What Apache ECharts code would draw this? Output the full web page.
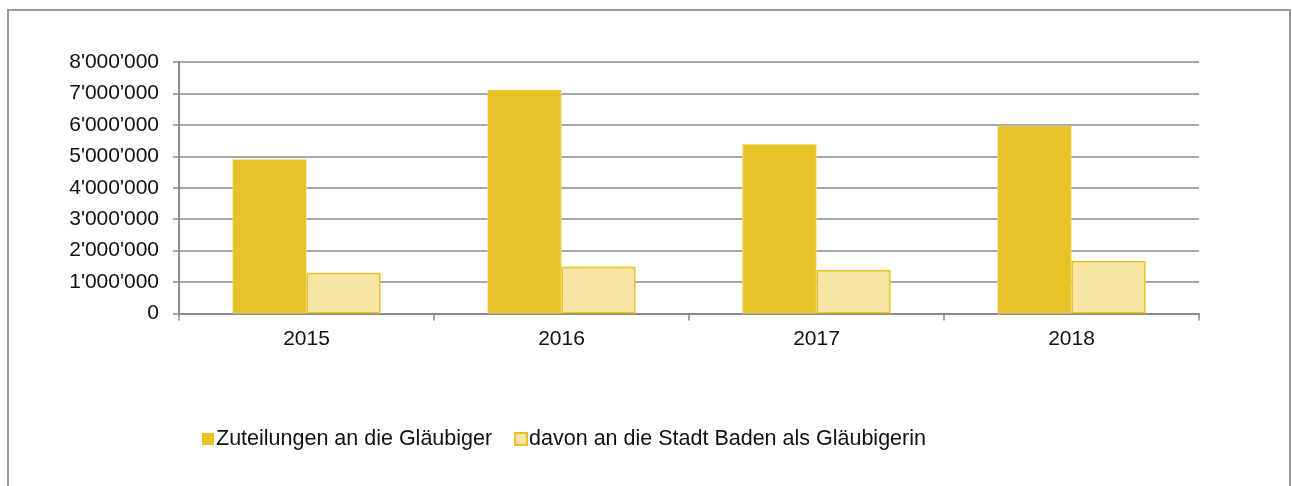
<!DOCTYPE html>
<html>
<head>
<meta charset="utf-8">
<script src="https://cdn.jsdelivr.net/npm/echarts@6/dist/echarts.min.js"></script>
<style>
  html, body { margin: 0; padding: 0; background: #fff; }
  #chart { width: 1292px; height: 486px; }
</style>
</head>
<body>
<div id="chart"></div>
<script>
const years = ["2015", "2016", "2017", "2018"];
const zuteilungen = [4910000, 7120000, 5390000, 5970000];
const davonBaden = [1300000, 1490000, 1385000, 1670000];
const seriesNames = ["Zuteilungen an die Gläubiger", "davon an die Stadt Baden als Gläubigerin"];

const gold = "#e8c327";
const lightGold = "#f5e4a4";
const grey = "#8a8a8a";
const font = "'Liberation Sans', Arial, sans-serif";

const fmt = v => String(v).replace(/\B(?=(\d{3})+(?!\d))/g, "'");

const chart = echarts.init(document.getElementById("chart"));
chart.setOption({
  animation: false,
  textStyle: { fontFamily: font },
  graphic: [
    {
      type: "rect",
      shape: { x: 8, y: 10, width: 1282, height: 490 },
      style: { fill: "none", stroke: "#9a9a9a", lineWidth: 2 },
      silent: true
    }
  ],
  legend: {
    data: [
      { name: seriesNames[0], itemStyle: { borderWidth: 0 } },
      { name: seriesNames[1] }
    ],
    left: 197,
    top: 423,
    itemWidth: 12,
    itemHeight: 12,
    itemGap: 22,
    icon: "rect",
    textStyle: { fontSize: 21.5, color: "#111", fontFamily: font, padding: [0, 0, 0, -3] }
  },
  grid: { left: 179, right: 93, top: 62, bottom: 172.5, containLabel: false },
  xAxis: {
    type: "category",
    data: years,
    axisLine: { lineStyle: { color: grey, width: 2 } },
    axisTick: { show: true, length: 7, lineStyle: { color: grey, width: 1.5 } },
    axisLabel: { fontSize: 21, color: "#111", margin: 15, fontFamily: font }
  },
  yAxis: {
    type: "value",
    min: 0,
    max: 8000000,
    interval: 1000000,
    axisLine: { show: true, lineStyle: { color: grey, width: 2 } },
    axisTick: { show: true, length: 6, lineStyle: { color: grey, width: 1.5 } },
    axisLabel: { fontSize: 21, color: "#111", margin: 20, fontFamily: font, formatter: fmt },
    splitLine: { lineStyle: { color: grey, width: 1.5 } }
  },
  series: [
    {
      name: seriesNames[0],
      type: "bar",
      data: zuteilungen,
      barWidth: 74,
      barGap: "0%",
      itemStyle: { color: gold, borderColor: "#f3e3a0", borderWidth: 0.5 }
    },
    {
      name: seriesNames[1],
      type: "bar",
      data: davonBaden,
      barWidth: 74,
      barGap: "0%",
      itemStyle: { color: lightGold, borderColor: gold, borderWidth: 1.5 }
    }
  ]
});
</script>
</body>
</html>
